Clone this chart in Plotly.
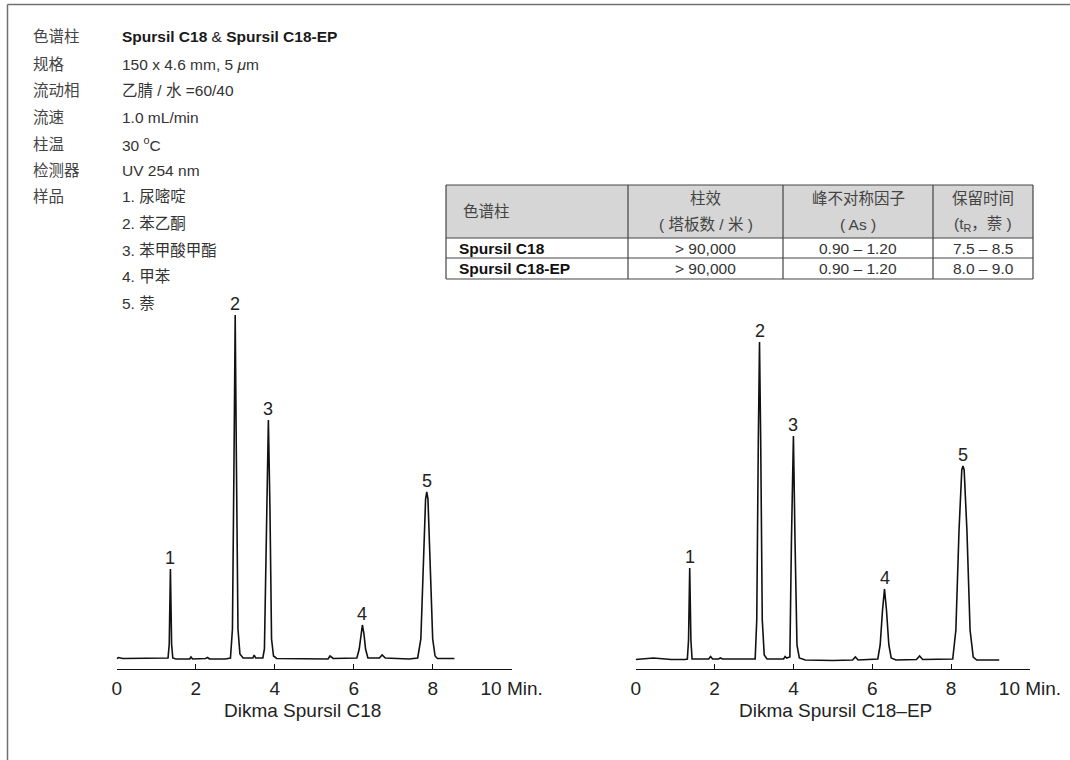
import plotly.graph_objects as go

W, H = 1070, 760

# ---------------- data ----------------
info_labels = ["色谱柱", "规格", "流动相", "流速", "柱温", "检测器", "样品"]
info_values = [
    "<b>Spursil C18</b> & <b>Spursil C18-EP</b>",
    "150 x 4.6 mm, 5 <i>μ</i>m",
    "乙腈 / 水 =60/40",
    "1.0 mL/min",
    "30 <sup>o</sup>C",
    "UV 254 nm",
    "1. 尿嘧啶",
]
sample_items = ["2. 苯乙酮", "3. 苯甲酸甲酯", "4. 甲苯", "5. 萘"]

table_head_1 = ["色谱柱", "柱效", "峰不对称因子", "保留时间"]
table_head_2 = ["", "( 塔板数 / 米 )", "( As )", "(t<sub>R</sub>，萘 )"]
table_columns = ["Spursil C18", "Spursil C18-EP"]
table_plates = ["> 90,000", "> 90,000"]
table_asym = ["0.90 – 1.20", "0.90 – 1.20"]
table_rt = ["7.5 – 8.5", "8.0 – 9.0"]

tick_vals = [0, 2, 4, 6, 8, 10]
tick_text = ["0", "2", "4", "6", "8", "10 Min."]

# Dikma Spursil C18 trace (time in min, signal in arbitrary units)
c18_time = [0.00, 0.05, 0.15, 1.20, 1.30, 1.33, 1.36, 1.39, 1.42, 1.50, 1.85, 1.88, 1.92,
            2.25, 2.30, 2.35, 2.75, 2.88, 2.93, 2.97, 3.00, 3.03, 3.07, 3.12, 3.20, 3.45,
            3.48, 3.52, 3.70, 3.74, 3.79, 3.84, 3.88, 3.92, 3.97, 4.05, 5.35, 5.40, 5.48,
            6.08, 6.14, 6.18, 6.22, 6.26, 6.30, 6.36, 6.65, 6.72, 6.80, 7.40, 7.62, 7.70,
            7.76, 7.82, 7.85, 7.88, 7.94, 8.00, 8.06, 8.12, 8.55]
c18_signal = [0.5, 1.5, 0.5, 0.5, 1, 15, 90, 15, 1, 0, 0, 2, 0,
              0.5, 1.5, 0, 0, 1, 30, 200, 344, 200, 30, 5, 1, 1,
              4, 1, 1, 10, 150, 239, 150, 20, 3, 0.5, 0, 3, 0.5,
              1, 10, 25, 34, 25, 10, 1, 1, 4, 1, 0, 1, 20,
              90, 160, 167, 160, 90, 20, 3, 0.5, 0.5]

# Dikma Spursil C18-EP trace
c18ep_time = [0.00, 0.30, 0.45, 0.60, 0.90, 1.25, 1.31, 1.34, 1.37, 1.40, 1.43, 1.85, 1.90,
              1.95, 2.10, 2.15, 2.20, 3.03, 3.07, 3.11, 3.14, 3.17, 3.21, 3.26, 3.33, 3.75,
              3.79, 3.83, 3.91, 3.95, 4.00, 4.04, 4.09, 4.15, 4.30, 5.00, 5.50, 5.57, 5.64,
              6.14, 6.20, 6.26, 6.31, 6.36, 6.42, 6.48, 6.60, 7.12, 7.20, 7.28, 8.04, 8.12,
              8.20, 8.27, 8.30, 8.33, 8.40, 8.48, 8.56, 8.65, 9.22]
c18ep_signal = [0.5, 1.5, 2, 1.5, 0.5, 0.5, 1, 20, 92, 20, 1, 1, 3.5,
                1, 1, 2, 1, 1, 40, 220, 318, 220, 40, 5, 1, 1,
                3.5, 2, 3, 120, 224, 120, 15, 2, 0, -0.5, 0, 3, 0,
                1, 15, 50, 71, 50, 15, 2, 0, 0.5, 4, 0.5, 1, 30,
                130, 190, 194, 190, 130, 30, 3, 0, 0]

peak_ids = ["1", "2", "3", "4", "5"]
c18_peak_time = [1.36, 3.00, 3.84, 6.22, 7.85]
c18_peak_height = [90, 344, 239, 34, 167]
c18ep_peak_time = [1.37, 3.14, 4.00, 6.31, 8.30]
c18ep_peak_height = [92, 318, 224, 71, 194]

# ---------------- helpers ----------------
def px(x):
    return x / W


def py(y):
    return 1 - y / H


FONT = "Liberation Sans, Arial, Noto Sans CJK SC, sans-serif"
TXT = "#333333"

fig = go.Figure()
fig.add_trace(go.Scatter(x=c18_time, y=c18_signal, mode="lines", xaxis="x", yaxis="y",
                         line=dict(color="#111111", width=1.6), hoverinfo="skip", showlegend=False))
fig.add_trace(go.Scatter(x=c18ep_time, y=c18ep_signal, mode="lines", xaxis="x2", yaxis="y2",
                         line=dict(color="#111111", width=1.6), hoverinfo="skip", showlegend=False))

y_dom = [py(669), py(300)]
xaxis_common = dict(range=[0, 10], tickvals=tick_vals, ticktext=tick_text, showline=True,
                    linecolor="#111111", linewidth=1.2, ticks="inside", ticklen=5,
                    tickcolor="#111111", tickwidth=1.2, showgrid=False, zeroline=False,
                    automargin=False, ticklabelstandoff=2,
                    tickfont=dict(family=FONT, size=19, color="#222222"), fixedrange=True)
yaxis_common = dict(visible=False, showgrid=False, zeroline=False, fixedrange=True,
                    automargin=False)

fig.update_layout(
    width=W, height=H, margin=dict(l=0, r=0, t=0, b=0, pad=0, autoexpand=False),
    paper_bgcolor="white", plot_bgcolor="white",
    font=dict(family=FONT, color=TXT),
    xaxis=dict(domain=[px(116.7), px(511.7)], anchor="y", **xaxis_common),
    yaxis=dict(domain=y_dom, range=[-10, 359], anchor="x", **yaxis_common),
    xaxis2=dict(domain=[px(635.7), px(1030)], anchor="y2", **xaxis_common),
    yaxis2=dict(domain=y_dom, range=[-9, 360], anchor="x2", **yaxis_common),
)

ann = []
shapes = []

# info block
row_y = [36.5, 64, 90.5, 117.5, 144, 170.5, 197, 223.5, 250, 276.5, 303]
for i, lab in enumerate(info_labels):
    ann.append(dict(x=px(31), y=py(row_y[i]), xref="paper", yref="paper", text=lab,
                    showarrow=False, xanchor="left", yanchor="middle",
                    font=dict(size=15.5, color="#444444")))
for i, val in enumerate(info_values + sample_items):
    ann.append(dict(x=px(120), y=py(row_y[i]), xref="paper", yref="paper", text=val,
                    showarrow=False, xanchor="left", yanchor="middle",
                    font=dict(size=15.5, color="#1a1a1a" if i == 0 else TXT)))

# table
cx = [446, 628, 783, 933, 1033]
ry = [185, 238, 258, 279]
shapes.append(dict(type="rect", xref="paper", yref="paper", x0=px(cx[0]), x1=px(cx[-1]),
                   y0=py(ry[0]), y1=py(ry[1]), fillcolor="#d6d6d6", line=dict(width=0), layer="below"))
for yv in ry:
    shapes.append(dict(type="line", xref="paper", yref="paper", x0=px(cx[0]), x1=px(cx[-1]),
                       y0=py(yv), y1=py(yv), line=dict(color="#444444", width=1.2)))
for xv in cx:
    shapes.append(dict(type="line", xref="paper", yref="paper", x0=px(xv), x1=px(xv),
                       y0=py(ry[0]), y1=py(ry[-1]), line=dict(color="#444444", width=1.2)))

ann.append(dict(x=px(461), y=py(212), xref="paper", yref="paper", text=table_head_1[0],
                showarrow=False, xanchor="left", yanchor="middle", font=dict(size=15.5, color="#444444")))
for j in range(1, 4):
    xc = (cx[j] + cx[j + 1]) / 2
    ann.append(dict(x=px(xc), y=py(198), xref="paper", yref="paper", text=table_head_1[j],
                    showarrow=False, xanchor="center", yanchor="middle",
                    font=dict(size=15.5, color="#444444")))
    ann.append(dict(x=px(xc), y=py(225), xref="paper", yref="paper", text=table_head_2[j],
                    showarrow=False, xanchor="center", yanchor="middle",
                    font=dict(size=15.5, color="#444444")))
for r in range(2):
    yc = (ry[r + 1] + ry[r + 2]) / 2
    ann.append(dict(x=px(457), y=py(yc), xref="paper", yref="paper",
                    text="<b>" + table_columns[r] + "</b>", showarrow=False, xanchor="left",
                    yanchor="middle", font=dict(size=15.5, color="#111111")))
    for j, col in zip(range(1, 4), [table_plates, table_asym, table_rt]):
        xc = (cx[j] + cx[j + 1]) / 2
        ann.append(dict(x=px(xc), y=py(yc), xref="paper", yref="paper", text=col[r],
                        showarrow=False, xanchor="center", yanchor="middle",
                        font=dict(size=15.5, color=TXT)))

# peak labels
for t, h, lab in zip(c18_peak_time, c18_peak_height, peak_ids):
    ann.append(dict(x=t, y=h, xref="x", yref="y", text=lab, showarrow=False,
                    xanchor="center", yanchor="bottom", yshift=-1,
                    font=dict(size=18, color="#222222")))
for t, h, lab in zip(c18ep_peak_time, c18ep_peak_height, peak_ids):
    ann.append(dict(x=t, y=h, xref="x2", yref="y2", text=lab, showarrow=False,
                    xanchor="center", yanchor="bottom", yshift=-1,
                    font=dict(size=18, color="#222222")))

# axis titles
ann.append(dict(x=px(302), y=py(710), xref="paper", yref="paper", text="Dikma Spursil C18",
                showarrow=False, xanchor="center", yanchor="middle", font=dict(size=19, color="#222222")))
ann.append(dict(x=px(835.5), y=py(710), xref="paper", yref="paper", text="Dikma Spursil C18–EP",
                showarrow=False, xanchor="center", yanchor="middle", font=dict(size=19, color="#222222")))

# outer frame (top and left edges)
shapes.append(dict(type="line", xref="paper", yref="paper", x0=px(7.5), x1=1,
                   y0=py(4.5), y1=py(4.5), line=dict(color="#707070", width=1.5)))
shapes.append(dict(type="line", xref="paper", yref="paper", x0=px(7.5), x1=px(7.5),
                   y0=0, y1=py(4.5), line=dict(color="#707070", width=1.5)))

fig.update_layout(annotations=ann, shapes=shapes)
fig.write_html(
    "out.html",
    config={"displayModeBar": False},
    post_script="document.body.style.margin='0';document.body.style.overflow='hidden';",
)
